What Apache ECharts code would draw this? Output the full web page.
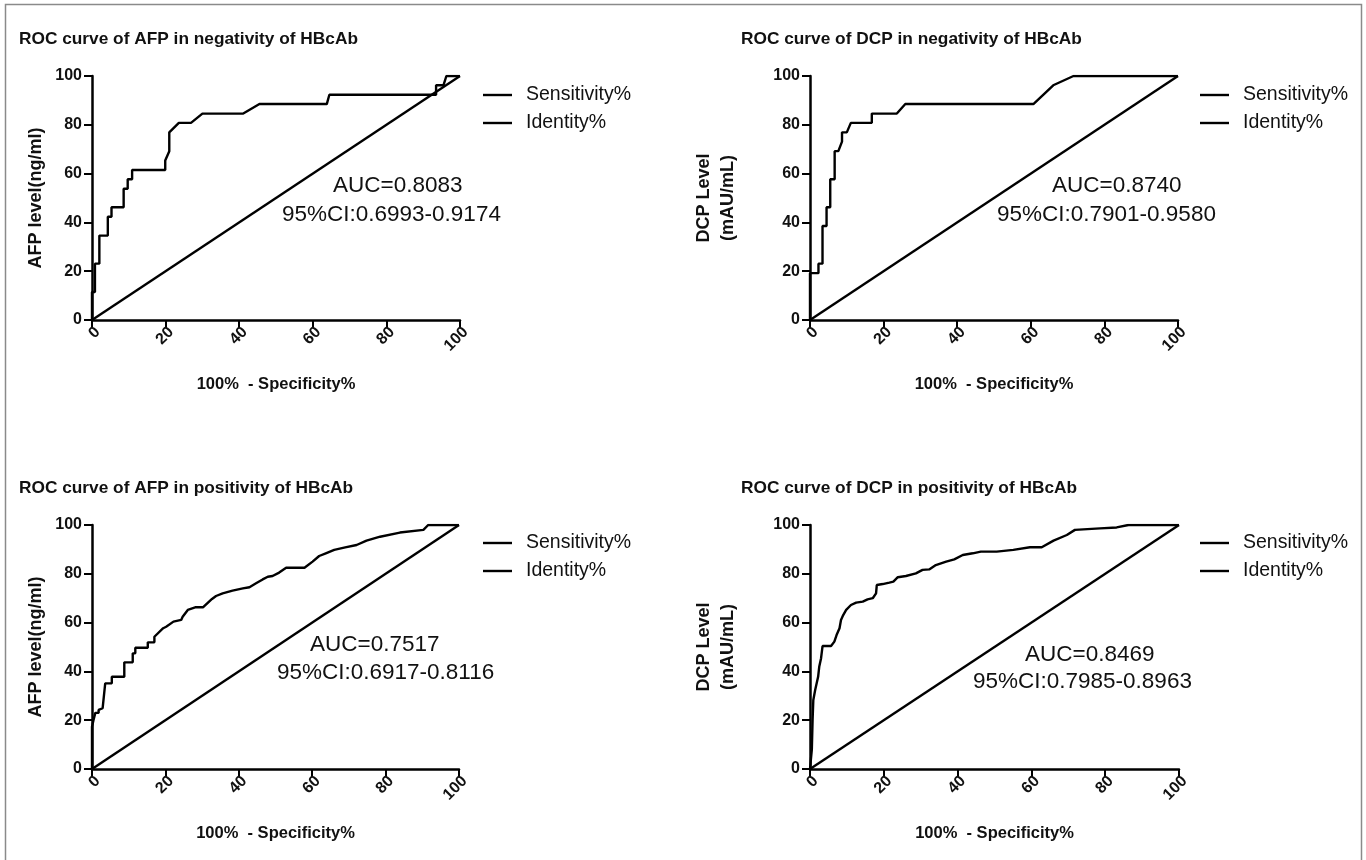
<!DOCTYPE html>
<html>
<head>
<meta charset="utf-8">
<script src="https://cdn.jsdelivr.net/npm/echarts@6/dist/echarts.min.js"></script>
<style>
  html, body { margin: 0; padding: 0; background: #fff; }
  #chart { width: 1366px; height: 860px; }
</style>
</head>
<body>
<div id="chart"></div>
<script>
// ---------- data ----------
const titles = [
  'ROC curve of AFP in negativity of HBcAb',
  'ROC curve of DCP in negativity of HBcAb',
  'ROC curve of AFP in positivity of HBcAb',
  'ROC curve of DCP in positivity of HBcAb'
];
const yNames = ['AFP level(ng/ml)', 'DCP Level\n(mAU/mL)', 'AFP level(ng/ml)', 'DCP Level\n(mAU/mL)'];
const xName = '100%  - Specificity%';
const legendNames = ['Sensitivity%', 'Identity%'];
const aucTexts = ['AUC=0.8083', 'AUC=0.8740', 'AUC=0.7517', 'AUC=0.8469'];
const ciTexts = ['95%CI:0.6993-0.9174', '95%CI:0.7901-0.9580', '95%CI:0.6917-0.8116', '95%CI:0.7985-0.8963'];
const axisTicks = [0, 20, 40, 60, 80, 100];

// ROC curve points: [100% - Specificity%, Sensitivity%]
const afpNegative = [
  [0,0],[0,11.5],[0.8,11.5],[0.8,23.1],[2.0,23.1],[2.0,34.6],[4.3,34.6],[4.3,42.3],
  [5.3,42.3],[5.3,46.2],[8.6,46.2],[8.6,53.8],[9.7,53.8],[9.7,57.7],[10.9,57.7],[10.9,61.5],
  [19.9,61.5],[19.9,65.4],[21.0,69.2],[21.0,76.9],[23.6,80.8],[26.9,80.8],[30.0,84.6],
  [41.1,84.6],[45.5,88.5],[63.8,88.5],[64.5,92.3],[93.5,92.3],[93.5,96.2],[95.5,96.2],
  [96.3,100],[99.0,100],[100,100]
];
const dcpNegative = [
  [0,0],[0,19.2],[2.3,19.2],[2.3,23.1],[3.4,23.1],[3.4,38.5],[4.5,38.5],[4.5,46.2],
  [5.5,46.2],[5.5,57.7],[6.7,57.7],[6.7,69.2],[7.7,69.2],[8.7,73.1],[8.7,76.9],[10.0,76.9],
  [11.1,80.8],[16.8,80.8],[16.8,84.6],[23.6,84.6],[25.9,88.5],[60.7,88.5],[66.1,96.2],
  [71.6,100],[100,100]
];
const afpPositive = [
  [0,0],[0,17.3],[0.4,20.0],[0.9,23.0],[1.8,23.0],[1.8,24.2],[2.9,24.9],[3.6,35.1],
  [5.4,35.1],[5.4,37.8],[8.8,37.8],[8.8,43.7],[11.1,43.7],[11.1,47.4],[11.8,47.4],[11.8,49.7],
  [15.2,49.7],[15.2,51.9],[17.0,51.9],[17.0,54.2],[19.4,57.7],[20.2,58.3],[22.2,60.4],
  [24.3,61.1],[24.7,62.4],[26.1,65.2],[28.3,66.3],[30.3,66.3],[32.7,69.7],[33.8,70.9],
  [35.6,72.0],[38.3,73.1],[41.1,74.0],[42.9,74.5],[44.7,76.1],[46.5,77.7],[47.9,78.8],
  [49.2,79.1],[51.0,80.5],[52.9,82.5],[57.9,82.5],[60.1,85.0],[61.9,87.3],[63.7,88.4],
  [66.0,89.8],[69.0,90.8],[72.1,91.8],[74.8,93.6],[78.5,95.2],[83.9,96.9],[90.3,98.0],
  [91.6,100],[100,100]
];
const dcpPositive = [
  [0,0],[0.5,8.0],[0.7,20.0],[0.9,28.3],[1.4,32.4],[2.2,37.8],[2.5,41.9],[3.0,45.4],
  [3.4,50.4],[5.7,50.4],[6.6,52.2],[7.2,54.9],[8.0,57.7],[8.4,61.1],[9.0,63.1],[9.8,65.2],
  [11.1,67.2],[12.5,68.2],[14.3,68.6],[15.6,69.5],[17.0,70.0],[17.9,72.0],[18.1,75.4],
  [19.7,75.8],[21.5,76.4],[22.6,76.8],[23.8,78.6],[26.0,79.1],[28.7,80.2],[30.5,81.6],
  [32.3,81.8],[34.1,83.6],[36.9,85.0],[39.1,85.9],[41.4,87.7],[44.1,88.4],[46.3,89.1],
  [50.6,89.1],[55.1,89.8],[59.6,90.9],[62.8,90.9],[66.0,93.6],[69.6,95.9],[71.8,98.0],
  [78.6,98.6],[83.1,99.0],[86.3,100],[100,100]
];
const identityLine = [[0,0],[100,100]];
const curves = [afpNegative, dcpNegative, afpPositive, dcpPositive];

// ---------- layout ----------
const FONT = '"Liberation Sans", Arial, Helvetica, sans-serif';
const grids = [
  { left: 92, top: 76, width: 368, height: 244 },
  { left: 810, top: 76, width: 368, height: 244 },
  { left: 92, top: 525, width: 367, height: 244 },
  { left: 810, top: 525, width: 369, height: 244 }
];
const titlePos = [[19, 39], [741, 39], [19, 488], [741, 488]];
const aucPos = [[333, 186], [1052, 186], [310, 645], [1025, 655]];
const ciPos = [[282, 215], [997, 215], [277, 673], [973, 682]];
const legendPos = [[478, 80], [1195, 80], [478, 528], [1195, 528]];
const yNameGap = [44, 70, 44, 70];

const axisCommon = {
  type: 'value', min: 0, max: 100, interval: 20,
  axisLine: { show: true, onZero: false, lineStyle: { color: '#000', width: 2.5 } },
  axisTick: { show: true, length: 8, lineStyle: { color: '#000', width: 2 } },
  splitLine: { show: false },
  axisLabel: { color: '#111', fontFamily: FONT, fontWeight: 'bold', fontSize: 16 }
};

const xAxes = grids.map((g, i) => Object.assign({}, axisCommon, {
  gridIndex: i,
  name: xName, nameLocation: 'middle', nameGap: 56,
  nameTextStyle: { fontFamily: FONT, fontWeight: 'bold', fontSize: 16.5, color: '#111' },
  axisLabel: Object.assign({}, axisCommon.axisLabel, {
    rotate: 45, margin: 4, verticalAlign: 'top', showMinLabel: true, showMaxLabel: true
  })
}));
const yAxes = grids.map((g, i) => Object.assign({}, axisCommon, {
  gridIndex: i,
  name: yNames[i], nameLocation: 'middle', nameGap: yNameGap[i],
  nameTextStyle: { fontFamily: FONT, fontWeight: 'bold', fontSize: 18, color: '#111', lineHeight: 24 },
  axisLabel: Object.assign({}, axisCommon.axisLabel, { margin: 10 })
}));

const series = [];
curves.forEach((c, i) => {
  series.push({
    name: legendNames[0], type: 'line', xAxisIndex: i, yAxisIndex: i, data: c,
    showSymbol: false, symbol: 'none', lineStyle: { color: '#000', width: 2.4 },
    itemStyle: { color: '#000' }, animation: false
  });
  series.push({
    name: legendNames[1], type: 'line', xAxisIndex: i, yAxisIndex: i, data: identityLine,
    showSymbol: false, symbol: 'none', lineStyle: { color: '#000', width: 2.4 },
    itemStyle: { color: '#000' }, animation: false
  });
});

const legends = legendPos.map(p => ({
  data: legendNames, orient: 'vertical', left: p[0], top: p[1],
  icon: 'rect', itemWidth: 29, itemHeight: 2.4, itemGap: 8, selectedMode: false,
  textStyle: { fontFamily: FONT, fontSize: 19.5, color: '#111', lineHeight: 20, padding: [0, 0, 0, 9] }
}));

const graphics = [];
// frame
graphics.push({ type: 'rect', shape: { x: 5.5, y: 4.5, width: 1356, height: 900 },
  style: { fill: 'none', stroke: '#8a8a8a', lineWidth: 1.5 }, silent: true });
titles.forEach((t, i) => graphics.push({
  type: 'text', x: titlePos[i][0], y: titlePos[i][1],
  style: { text: t, fill: '#111', font: 'bold 17.3px ' + FONT, textAlign: 'left', textVerticalAlign: 'middle' }
}));
aucTexts.forEach((t, i) => graphics.push({
  type: 'text', x: aucPos[i][0], y: aucPos[i][1],
  style: { text: t, fill: '#111', font: '22.5px ' + FONT, textAlign: 'left', textVerticalAlign: 'middle' }
}));
ciTexts.forEach((t, i) => graphics.push({
  type: 'text', x: ciPos[i][0], y: ciPos[i][1],
  style: { text: t, fill: '#111', font: '22.5px ' + FONT, textAlign: 'left', textVerticalAlign: 'middle' }
}));

const chart = echarts.init(document.getElementById('chart'), null, { renderer: 'canvas' });
chart.setOption({
  backgroundColor: '#fff',
  animation: false,
  grid: grids,
  xAxis: xAxes,
  yAxis: yAxes,
  legend: legends,
  series: series,
  graphic: graphics
});
</script>
</body>
</html>
